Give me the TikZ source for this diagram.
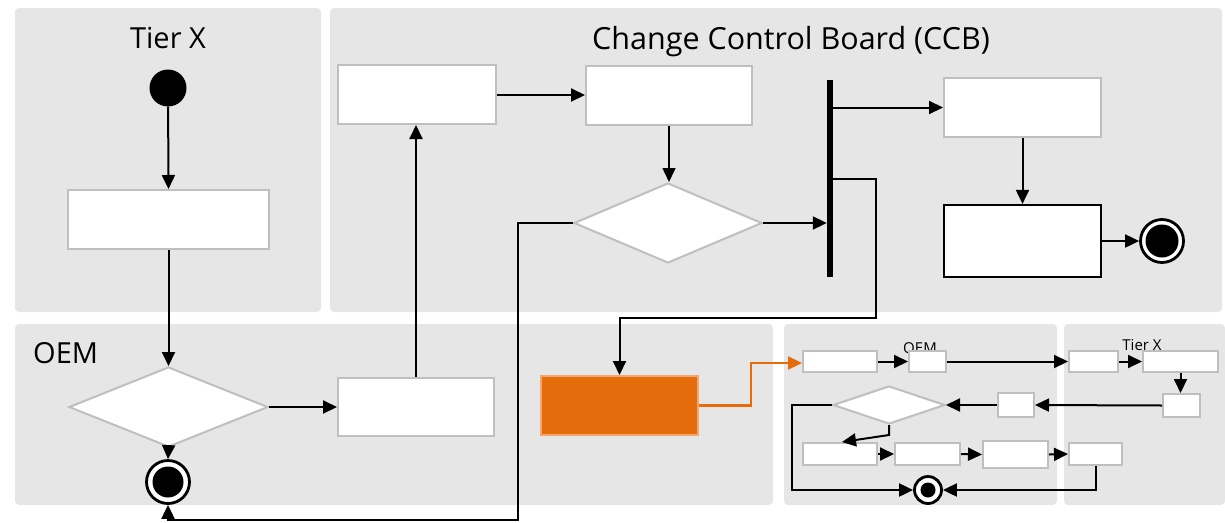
\documentclass[tikz,border=0pt]{standalone}
\usepackage{fontspec}
\setmainfont{Open Sans}
\usetikzlibrary{arrows.meta,shapes.geometric}
\definecolor{panelgray}{RGB}{230,230,230}
\definecolor{boxgray}{RGB}{191,191,191}
\definecolor{orangefill}{RGB}{228,108,10}
\definecolor{orangeedge}{RGB}{245,165,110}
\begin{document}
\begin{tikzpicture}[x=1pt,y=-1pt,
  panel/.style={fill=panelgray, rounded corners=4pt},
  box/.style={draw=boxgray, fill=white, line width=2pt, inner sep=0pt, rectangle},
  blackbox/.style={draw=black, fill=white, line width=2.2pt, inner sep=0pt, rectangle},
  dia/.style={diamond, draw=boxgray, fill=white, line width=2pt, inner sep=0pt},
  startstate/.style={circle, fill=black, inner sep=0pt, minimum size=37pt},
  endstate/.style={circle, draw=black, fill=white, line width=2.8pt, inner sep=0pt,
     path picture={\fill[black] (path picture bounding box.center) circle (#1);}},
  arr/.style={line width=2pt, -{Triangle[length=14pt,width=13pt]}},
  orarr/.style={draw=orangefill, line width=2.2pt, -{Triangle[length=14pt,width=13pt]}},
  bigtxt/.style={font=\fontsize{29}{34}\selectfont, inner sep=0pt},
  smalltxt/.style={font=\fontsize{15}{18}\selectfont, inner sep=0pt}
]
\useasboundingbox (0,0) rectangle (1225,522);
% panels
\fill[panel] (15,8) rectangle (321,312);
\fill[panel] (330,8) rectangle (1222,312);
\fill[panel] (15,324) rectangle (773,505);
\fill[panel] (784,324) rectangle (1057,505);
\fill[panel] (1064,324) rectangle (1225,505);

% titles
\node[bigtxt, anchor=base] (tTier) at (168,48) {Tier X};
\node[bigtxt, font=\fontsize{30.5}{36}\selectfont, anchor=base] (tCCB) at (791,49) {Change Control Board (CCB)};
\node[bigtxt, anchor=base west] (tOEM) at (33,363) {OEM};
\node[smalltxt, anchor=base] (sOEM) at (920,353) {OEM};
\node[smalltxt, anchor=base] (sTier) at (1142,350) {Tier X};

% Tier X lane
\node[startstate] (start) at (168,88) {};
\node[box, minimum width=201pt, minimum height=59pt] (t1) at (168.5,219.5) {};

% OEM lane
\node[dia, minimum width=199pt, minimum height=80pt] (d1) at (168.5,407) {};
\node[endstate=15.5pt, minimum size=43pt] (end1) at (168,482) {};
\node[box, minimum width=156pt, minimum height=58pt] (b2) at (416,407) {};
\node[rectangle, fill=orangefill, draw=orangeedge, line width=2pt, inner sep=0pt,
      minimum width=157pt, minimum height=59pt] (or) at (619.5,405.5) {};

% CCB lane
\node[box, minimum width=158pt, minimum height=59pt] (bA) at (417,94.5) {};
\node[box, minimum width=166pt, minimum height=59pt] (bB) at (669,95.5) {};
\node[dia, minimum width=188pt, minimum height=80pt] (d2) at (668,223) {};
\node[rectangle, fill=black, inner sep=0pt, minimum width=6pt, minimum height=197pt] (bar) at (830,178.5) {};
\node[box, minimum width=157pt, minimum height=59pt] (bC) at (1022.5,107.5) {};
\node[blackbox, minimum width=157pt, minimum height=72pt] (bD) at (1022.5,241) {};
\node[endstate=16.5pt, minimum size=43pt] (end2) at (1162,241) {};

% small panels
\node[box, minimum width=74pt, minimum height=21pt] (s1) at (840,361.5) {};
\node[box, minimum width=37pt, minimum height=21pt] (s2) at (927.5,361.5) {};
\node[box, minimum width=49pt, minimum height=21pt] (s3) at (1093.5,361.5) {};
\node[box, minimum width=75pt, minimum height=21pt] (s4) at (1180.5,361.5) {};
\node[box, minimum width=37pt, minimum height=23pt] (s5) at (1181.5,405.5) {};
\node[box, minimum width=36pt, minimum height=24pt] (s6) at (1016,405) {};
\node[dia, minimum width=112pt, minimum height=38pt] (sd) at (889,405) {};
\node[box, minimum width=74pt, minimum height=22pt] (s7) at (840,454) {};
\node[box, minimum width=65pt, minimum height=22pt] (s8) at (927.5,454) {};
\node[box, minimum width=65pt, minimum height=27pt] (s9) at (1015.5,454.5) {};
\node[box, minimum width=53pt, minimum height=22pt] (s10) at (1095.5,454) {};
\node[endstate=7.5pt, minimum size=27pt] (end3) at (928,490) {};

% coordinates for bends
\coordinate (c1) at (518,520);
\coordinate (c2) at (876,318);
\coordinate (c4) at (751,363);
\coordinate (c5) at (792,490);

% connectors
\draw[arr] (start) -- (t1.north);
\draw[arr] (t1.south) -- (d1.north);
\draw[arr] (d1.south) -- (end1.north);
\draw[arr] (d1.east) -- (b2.west);
\draw[arr] (b2.north) -- (b2.north |- bA.south);
\draw[arr] (bA.east |- 0,95) -- (bB.west |- 0,95);
\draw[arr, line width=1.5pt] (bB.south) -- (bB.south |- d2.north);
\draw[arr] (d2.east) -- (bar.west |- d2.east);
\draw[arr] (bar.east |- bC.west) -- (bC.west);
\draw[arr] (bC.south) -- (bD.north);
\draw[arr] (bD.east) -- (end2.west);
\draw[arr] (bar.east) -| (c2) -| (or.north);
\draw[arr] (d2.west) -| (c1) -| (end1.south);
\draw[orarr] (or.east) -| (c4) -- (c4 -| s1.west);

\draw[arr] (s1.east) -- (s2.west);
\draw[arr] (s2.east) -- (s3.west);
\draw[arr] (s3.east) -- (s4.west);
\draw[arr] (s4.south) -- (s4.south |- s5.north);
\draw[arr] (s5.west) -- (s6.east);
\draw[arr] (s6.west) -- (sd.east);
\draw[arr] (sd.south) -- ++(0,10) -- ([xshift=2pt]s7.north);
\draw[arr] (s7.east) -- (s8.west);
\draw[arr] (s8.east) -- (s9.west);
\draw[arr] (s9.east) -- (s10.west);
\draw[arr] (s10.south) |- (end3.east);
\draw[arr] (sd.west) -| (c5) -- (end3.west);
\end{tikzpicture}
\end{document}
